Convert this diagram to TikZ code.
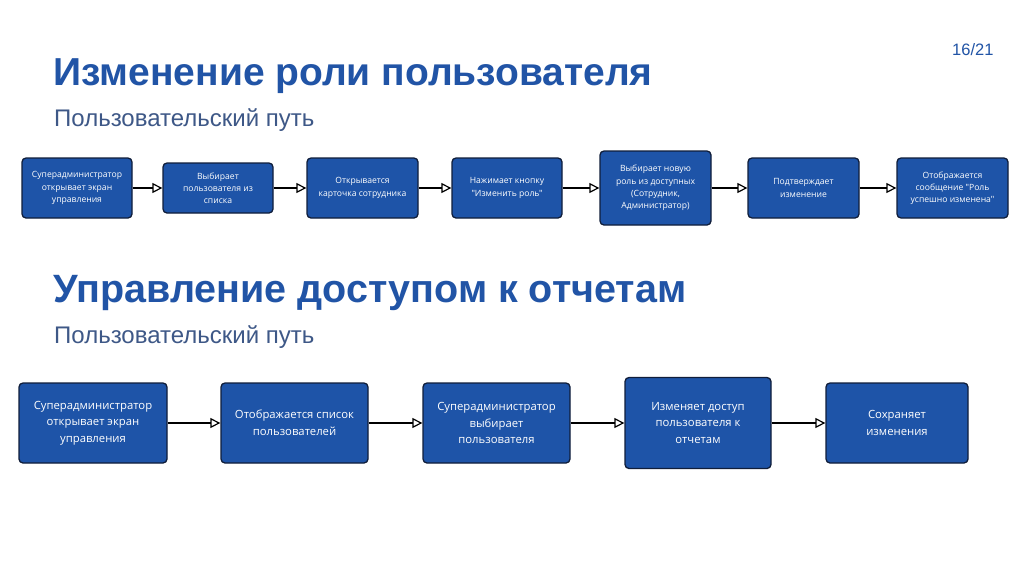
\documentclass[tikz,border=0pt]{standalone}
\usepackage{fontspec}
\setmainfont{Liberation Sans}
\newfontfamily\boxfont{Open Sans}
\usepackage{tikz}
\usetikzlibrary{arrows.meta, positioning, calc}
\definecolor{titleblue}{RGB}{33,84,166}
\definecolor{subgray}{RGB}{62,88,135}
\definecolor{boxblue}{RGB}{30,84,168}
\definecolor{boxline}{RGB}{16,30,58}
\tikzstyle{stepbox} = [rectangle, draw=boxline, line width=1.3pt, fill=boxblue, rounded corners=4pt, text=white, align=center, inner sep=2pt]
\tikzstyle{small} = [stepbox, font=\boxfont\fontsize{8.6}{12.2}\selectfont, minimum width=110pt, minimum height=60pt]
\tikzstyle{big} = [stepbox, font=\boxfont\fontsize{11.3}{16.7}\selectfont, minimum width=147pt, minimum height=80pt]
\tikzstyle{flow} = [-{Triangle[open, length=10pt, width=10pt]}, line width=1.2pt, black]

\begin{document}
\begin{tikzpicture}[x=1pt, y=-1pt]
    \useasboundingbox[fill=white] (0,0) rectangle (1024,574);
    % headings
    \node[anchor=base east, text=titleblue, font=\fontsize{16.5}{18}\selectfont] (page) at (997,55) {16/21};
    \node[anchor=base west, text=titleblue, font=\bfseries\fontsize{39}{42}\selectfont, inner sep=0pt] (title1) at (53,85) {Изменение роли пользователя};
    \node[anchor=base west, text=subgray, font=\fontsize{24}{28}\selectfont, inner sep=0pt] (sub1) at (54,126) {Пользовательский путь};
    \node[anchor=base west, text=titleblue, font=\bfseries\fontsize{39.5}{42}\selectfont, inner sep=0pt] (title2) at (53,302.7) {Управление доступом к отчетам};
    \node[anchor=base west, text=subgray, font=\fontsize{24}{28}\selectfont, inner sep=0pt] (sub2) at (54,343) {Пользовательский путь};
    % first flow
    \node[small] (r1) at (77,188) {Суперадминистратор\\открывает экран\\управления};
    \node[small, minimum height=50pt] (r2) at (218,188) {Выбирает\\пользователя из\\списка};
    \node[small, minimum width=111pt] (r3) at (362.5,188) {Открывается\\карточка сотрудника};
    \node[small] (r4) at (507,188) {Нажимает кнопку\\"Изменить роль"};
    \node[small, minimum width=111pt, minimum height=74pt] (r5) at (655.5,188) {Выбирает новую\\роль из доступных\\(Сотрудник,\\Администратор)};
    \node[small, minimum width=111pt] (r6) at (803.5,188) {Подтверждает\\изменение};
    \node[small, minimum width=111pt] (r7) at (952.5,188) {Отображается\\сообщение "Роль\\успешно изменена"};
    \foreach \a/\b in {r1/r2, r2/r3, r3/r4, r4/r5, r5/r6, r6/r7}
        \draw[flow] (\a.east) -- (\b.west);
    % second flow
    \node[big, minimum width=148pt] (a1) at (93,423) {Суперадминистратор\\открывает экран\\управления};
    \node[big] (a2) at (294.5,423) {Отображается список\\пользователей};
    \node[big] (a3) at (496.5,423) {Суперадминистратор\\выбирает\\пользователя};
    \node[big, minimum width=146pt, minimum height=91pt] (a4) at (698,423) {Изменяет доступ\\пользователя к\\отчетам};
    \node[big, minimum width=142pt] (a5) at (897,423) {Сохраняет\\изменения};
    \foreach \a/\b in {a1/a2, a2/a3, a3/a4, a4/a5}
        \draw[flow] (\a.east) -- (\b.west);
\end{tikzpicture}
\end{document}
